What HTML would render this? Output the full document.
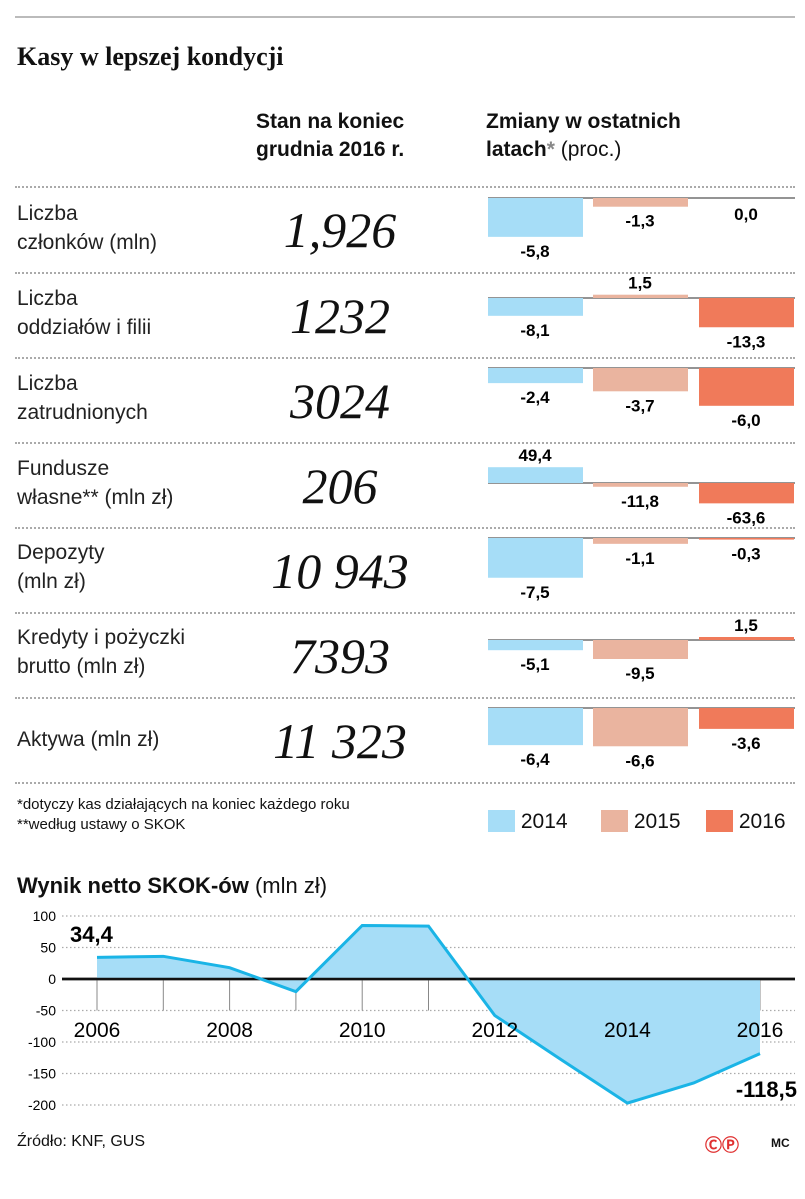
<!DOCTYPE html>
<html><head><meta charset="utf-8"><style>
body{margin:0;background:#fff;font-family:"Liberation Sans",sans-serif;color:#111}
#wrap{position:relative;width:805px;height:1199px;overflow:hidden}
.abs{position:absolute}
.lbl{font-size:21px;line-height:29px;color:#222}
.big{font-family:"Liberation Serif",serif;font-style:italic;font-size:50px;width:200px;text-align:center;left:240px}
.hd{font-weight:bold;font-size:21px;line-height:28px}
.sep{left:15px;width:780px;border-top:2px dotted #aaa;height:0}
</style></head><body><div id="wrap">
<div class="abs" style="left:15px;top:16px;width:780px;border-top:2px solid #bbb"></div>
<div class="abs" style="left:17px;top:42px;font-family:'Liberation Serif',serif;font-weight:bold;font-size:26px">Kasy w lepszej kondycji</div>
<div class="abs hd" style="left:256px;top:108px">Stan na koniec<br>grudnia 2016 r.</div>
<div class="abs hd" style="left:486px;top:108px">Zmiany w ostatnich<br>latach<span style="color:#888">*</span> <span style="font-weight:normal">(proc.)</span></div>
<svg id="bars" class="abs" style="left:0;top:0" width="805" height="800"></svg>
<div class="abs" style="left:17px;top:795px;font-size:15px;line-height:20px">*dotyczy kas działających na koniec każdego roku<br>**według ustawy o SKOK</div>
<div class="abs" style="left:488px;top:810px;font-size:21px">
<span style="position:absolute;left:0;top:0;white-space:nowrap"><i style="display:inline-block;width:27px;height:22px;background:#a6ddf7;vertical-align:-4px"></i> 2014</span>
<span style="position:absolute;left:113px;top:0;white-space:nowrap"><i style="display:inline-block;width:27px;height:22px;background:#eab49f;vertical-align:-4px"></i> 2015</span>
<span style="position:absolute;left:218px;top:0;white-space:nowrap"><i style="display:inline-block;width:27px;height:22px;background:#f07a5a;vertical-align:-4px"></i> 2016</span>
</div>
<div class="abs" style="left:17px;top:873px;font-size:22px"><b>Wynik netto SKOK-ów</b> (mln zł)</div>
<svg id="line" class="abs" style="left:0;top:0" width="805" height="1199"></svg>
<div class="abs" style="left:17px;top:1133px;font-size:16px">Źródło: KNF, GUS</div>
<div class="abs" style="left:705px;top:1131px;color:#e03030;font-weight:bold;font-size:17px">ⒸⓅ</div>
<div class="abs" style="left:771px;top:1136px;font-size:12px;font-weight:bold">MC</div>
</div>
<script>
const NS="http://www.w3.org/2000/svg";
const rowLabels=[["Liczba","członków (mln)"],["Liczba","oddziałów i filii"],["Liczba","zatrudnionych"],["Fundusze","własne** (mln zł)"],["Depozyty","(mln zł)"],["Kredyty i pożyczki","brutto (mln zł)"],["Aktywa (mln zł)"]];
const stateValues=["1,926","1232","3024","206","10 943","7393","11 323"];
const v2014=[-5.8,-8.1,-2.4,49.4,-7.5,-5.1,-6.4];
const v2015=[-1.3,1.5,-3.7,-11.8,-1.1,-9.5,-6.6];
const v2016=[0.0,-13.3,-6.0,-63.6,-0.3,1.5,-3.6];
const rowScale=[6.7,2.2,6.3,0.32,5.3,2.0,5.8];
const baselines=[198,298,368,483,538,640,708];
const sepY=[186,272,357,442,527,612,697,782];
const labelTop=[199,284,369,454,538,623,725];
const wrap=document.getElementById('wrap');
const bs=document.getElementById('bars');
function el(t,a,p){const e=document.createElementNS(NS,t);for(const k in a)e.setAttribute(k,a[k]);p.appendChild(e);return e;}
sepY.forEach((y,i)=>{const d=document.createElement('div');d.className='abs sep';d.style.top=y+'px';


wrap.appendChild(d);});
const cols=[{x:488,c:"#a6ddf7",v:v2014},{x:593,c:"#eab49f",v:v2015},{x:699,c:"#f07a5a",v:v2016}];
rowLabels.forEach((lb,i)=>{
 const d=document.createElement('div');d.className='abs lbl';d.style.left='17px';d.style.top=labelTop[i]+'px';d.innerHTML=lb.join('<br>');
 
 
 wrap.appendChild(d);
 const b=document.createElement('div');b.className='abs big';b.style.top=(sepY[i]+15)+'px';b.textContent=stateValues[i];
 
 
 wrap.appendChild(b);
 const y0=baselines[i];
 const ax=el('line',{x1:488,x2:795,y1:y0,y2:y0,stroke:'#555','stroke-width':1.2},bs);
 
 
 cols.forEach((c,j)=>{
  const v=c.v[i],h=Math.abs(v)*rowScale[i];
  const r=el('rect',{x:c.x,width:95,y:v>=0?y0-h:y0,height:h,fill:c.c},bs);
  
  
  const ty=v>=0&&v!==0?y0-h-6:y0+h+20;
  const t=el('text',{x:c.x+47,y:v===0?y0+22:ty,'text-anchor':'middle','font-size':17,'font-weight':'bold','font-family':'Liberation Sans,sans-serif'},bs);
  t.textContent=v.toFixed(1).replace('.',',');
  
  
 });
});
// line chart
const years=[2006,2007,2008,2009,2010,2011,2012,2013,2014,2015,2016];
const netResult=[34.4,36,18,-20,85,84,-58,-128,-197,-165,-118.5];
const yTicks=[100,50,0,-50,-100,-150,-200];
const xLabels=[2006,2008,2010,2012,2014,2016];
const ls=document.getElementById('line');
const X=y=>97+(y-2006)*66.3, Y=v=>979-v*0.63;
yTicks.forEach(t=>{
 const g=el('line',{x1:62,x2:795,y1:Y(t),y2:Y(t),stroke:t===0?'#111':'#aaa','stroke-width':t===0?2.5:1.2,'stroke-dasharray':t===0?'':'1.5 2.5'},ls);
 
 
 const tx=el('text',{x:56,y:Y(t)+5,'text-anchor':'end','font-size':14,'font-family':'Liberation Sans,sans-serif'},ls);
 tx.textContent=t;
 
 
});
years.forEach(y=>{const t=el('line',{x1:X(y),x2:X(y),y1:Y(0),y2:Y(-50),stroke:'#888','stroke-width':1},ls);
 
 });
let pts=years.map((y,i)=>X(y)+','+Y(netResult[i])).join(' ');
const area=el('polygon',{points:X(years[0])+','+Y(0)+' '+pts+' '+X(years[years.length-1])+','+Y(0),fill:'#a6ddf7'},ls);


const zl=el('line',{x1:62,x2:795,y1:Y(0),y2:Y(0),stroke:'#111','stroke-width':2.5},ls);


const pl=el('polyline',{points:pts,fill:'none',stroke:'#1ab4e6','stroke-width':3},ls);


xLabels.forEach(y=>{const t=el('text',{x:X(y),y:1037,'text-anchor':'middle','font-size':21,'font-family':'Liberation Sans,sans-serif'},ls);
 t.textContent=y;
 
 });
const a1=el('text',{x:70,y:942,'font-size':22,'font-weight':'bold','font-family':'Liberation Sans,sans-serif'},ls);
a1.textContent='34,4';


const a2=el('text',{x:797,y:1097,'text-anchor':'end','font-size':22,'font-weight':'bold','font-family':'Liberation Sans,sans-serif'},ls);
a2.textContent='-118,5';


</script></body></html>
